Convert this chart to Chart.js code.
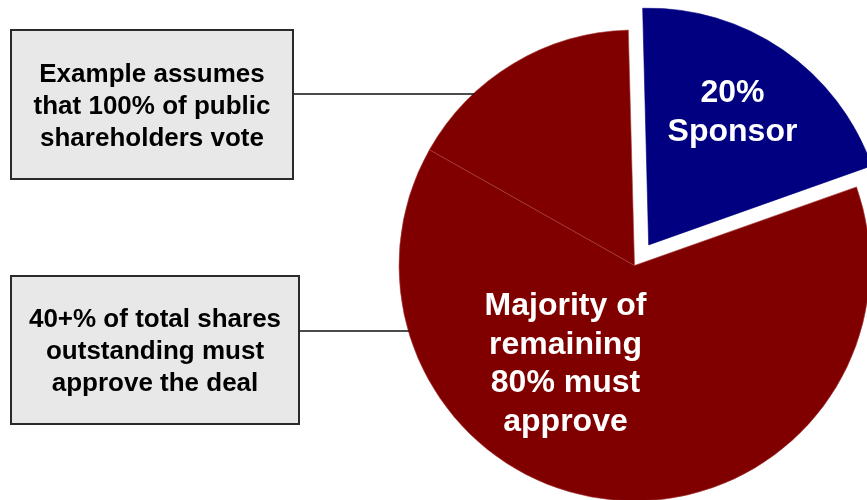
<!DOCTYPE html>
<html>
<head>
<meta charset="utf-8">
<script src="https://cdn.jsdelivr.net/npm/chart.js@4"></script>
<style>
  html, body { margin: 0; padding: 0; background: #fff; }
  #wrap { width: 867px; height: 500px; position: relative; }
</style>
</head>
<body>
<div id="wrap"><canvas id="grafico" width="867" height="500"></canvas></div>
<script>
// dados do gráfico
const categorias = ["Sponsor", "Public (majority)", "Public (rest)"];
const valores = [20, 63.6, 16.4];
const cores = ["#000080", "#800000", "#800000"];
// Chart.js v4 desloca o arco em offset/4 px -> 100 = ~25px
const destaque = [100, 0, 0];

// textos
const rotuloSponsor = ["20%", "Sponsor"];
const rotuloMaioria = ["Majority of", "remaining", "80% must", "approve"];
const caixaTopo = ["Example assumes", "that 100% of public", "shareholders vote"];
const caixaBaixo = ["40+% of total shares", "outstanding must", "approve the deal"];

const FONTE = "Arial, 'Liberation Sans', sans-serif";

function linhas(ctx, arr, x, y, passo) {
  arr.forEach((t, i) => ctx.fillText(t, x, y + i * passo));
}

// plugin para caixas, conectores e rótulos
const anotacoes = {
  id: "anotacoes",
  afterDatasetsDraw(chart) {
    const ctx = chart.ctx;
    const arco = chart.getDatasetMeta(0).data[1];
    const cx = arco.x, cy = arco.y, r = arco.outerRadius;

    // rótulos dentro da pizza
    ctx.save();
    ctx.fillStyle = "#fff";
    ctx.textAlign = "center";
    ctx.textBaseline = "middle";
    ctx.font = "bold 32px " + FONTE;
    linhas(ctx, rotuloSponsor, cx + 98, cy - 172, 38.5);
    linhas(ctx, rotuloMaioria, cx - 69, cy + 41, 38.5);
    ctx.restore();

    // caixas + conectores
    const caixas = [
      { txt: caixaTopo, x: 11, y: 30, w: 282, h: 149, ly: 94 },
      { txt: caixaBaixo, x: 11, y: 276, w: 288, h: 148, ly: 331 },
    ];
    ctx.save();
    caixas.forEach((c) => {
      const dy = cy - c.ly;
      const xBorda = cx - Math.sqrt(r * r - dy * dy);
      ctx.strokeStyle = "#111";
      ctx.lineWidth = 1.5;
      ctx.beginPath();
      ctx.moveTo(c.x + c.w, c.ly);
      ctx.lineTo(xBorda + 1, c.ly);
      ctx.stroke();

      ctx.fillStyle = "#e8e8e8";
      ctx.fillRect(c.x, c.y, c.w, c.h);
      ctx.strokeStyle = "#2a2a2a";
      ctx.lineWidth = 2;
      ctx.strokeRect(c.x, c.y, c.w, c.h);

      ctx.fillStyle = "#000";
      ctx.font = "bold 26px " + FONTE;
      ctx.textAlign = "center";
      ctx.textBaseline = "middle";
      linhas(ctx, c.txt, c.x + c.w / 2, c.y + c.h / 2 - 30, 32);
    });
    ctx.restore();
  },
};

const ctx = document.getElementById("grafico").getContext("2d");
new Chart(ctx, {
  type: "pie",
  data: {
    labels: categorias,
    datasets: [
      {
        data: valores,
        backgroundColor: cores,
        borderColor: ["#000080", "#a84040", "#a84040"],
        borderWidth: 0.6,
        offset: destaque,
        clip: false,
      },
    ],
  },
  options: {
    responsive: false,
    animation: false,
    radius: 235.5,
    rotation: -1.5,
    layout: { padding: { left: 402, right: 0, top: 31, bottom: 0 } },
    plugins: {
      legend: { display: false },
      tooltip: { enabled: false },
    },
  },
  plugins: [anotacoes],
});
</script>
</body>
</html>
